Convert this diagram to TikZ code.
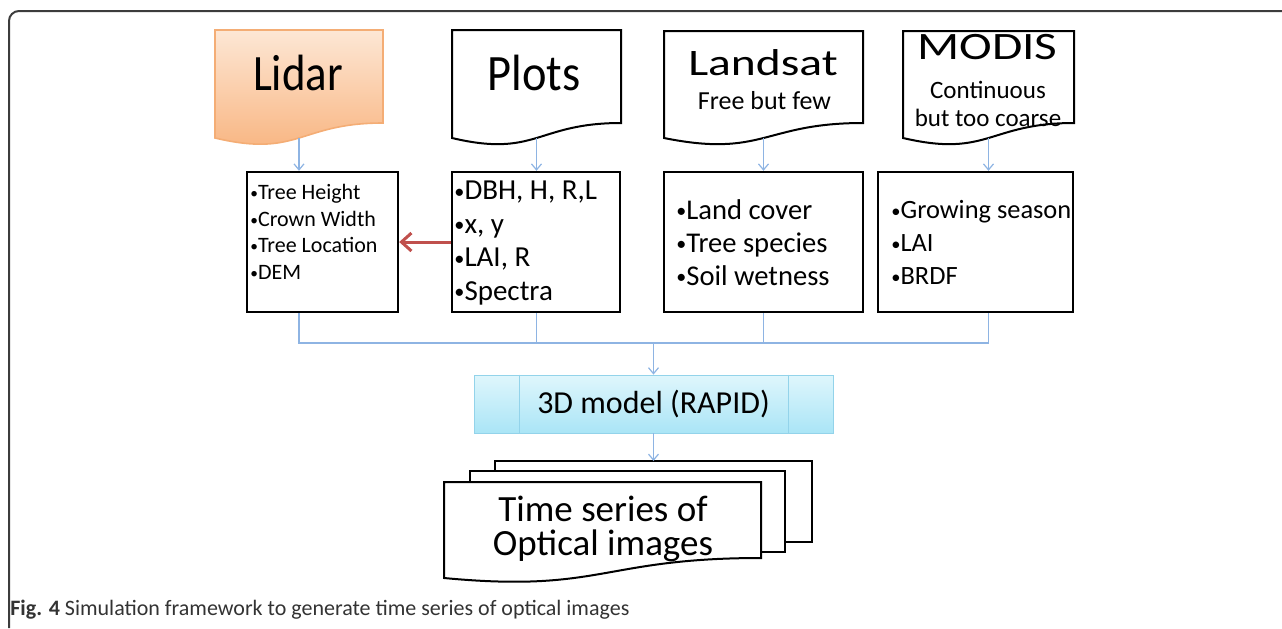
\documentclass[tikz,border=0pt]{standalone}
\usepackage{fontspec}
\setmainfont{Carlito}
\usepackage{xcolor}
\usepackage{tikz}
\usetikzlibrary{arrows.meta}

\definecolor{flowblue}{HTML}{8EB4E3}
\definecolor{lidarlight}{HTML}{FDE7D5}
\definecolor{lidardeep}{HTML}{F8B27C}
\definecolor{lidaredge}{HTML}{F4AD75}
\definecolor{modlight}{HTML}{DFF6FC}
\definecolor{moddeep}{HTML}{AAE5F6}
\definecolor{modedge}{HTML}{93D3EA}
\definecolor{linkred}{HTML}{C0504D}
\definecolor{framegray}{HTML}{3C3C3C}
\definecolor{captext}{HTML}{333333}

\newcommand{\bul}{\raisebox{0.12ex}{\scalebox{0.7}{•}}}

\begin{document}
\begin{tikzpicture}[x=0.5pt, y=-0.5pt,
    flow/.style={flowblue, line width=0.6pt},
    flowarrow/.style={flow, -{Straight Barb[length=3pt, width=5pt]}},
    doc/.style={draw=black, line width=1pt, fill=white},
    infobox/.style={draw, line width=1.2pt, minimum height=70pt, inner sep=0pt},
    boxtext/.style={align=left, inner sep=0pt, anchor=west},
    title/.style={inner sep=0pt},
    note/.style={font=\fontsize{12.5}{14}\selectfont, inner sep=0pt}]
    \useasboundingbox (0,0) rectangle (1282,628);

    % Frame
    \draw[framegray, line width=1pt, rounded corners=5pt] (9,628) -- (9,11) -- (1282,11);

    % Source documents
    \draw[draw=lidaredge, line width=0.8pt, top color=lidarlight, bottom color=lidardeep]
        (215,30) -- (383,30) -- (383,123) .. controls (299,123) and (299,158) .. (215,138) -- cycle;
    \draw[doc] (452,30) -- (621,30) -- (621,123) .. controls (536.5,123) and (536.5,158) .. (452,138) -- cycle;
    \draw[doc] (664,31) -- (863,31) -- (863,123) .. controls (763.5,123) and (763.5,158) .. (664,138) -- cycle;
    \draw[doc] (903,31) -- (1074,31) -- (1074,123) .. controls (988.5,123) and (988.5,158) .. (903,138) -- cycle;

    \node[title, font=\fontsize{25.5}{28}\selectfont] (lidar) at (298,72.5) {\scalebox{0.88}[1]{Lidar}};
    \node[title, font=\fontsize{25.5}{28}\selectfont] (plots) at (534,72.5) {\scalebox{0.91}[1]{Plots}};
    \node[title, font=\fontsize{18.7}{21}\selectfont] (landsat) at (763,62.5) {\scalebox{1.27}[1]{Landsat}};
    \node[note, font=\fontsize{13}{15}\selectfont] (landnote) at (764.5,101) {Free but few};
    \node[title, font=\fontsize{19.4}{21}\selectfont] (modis) at (987.5,47.5) {\scalebox{1.27}[1]{MODIS}};
    \node[note, align=center] (modnote) at (988,104) {Continuous\\but too coarse};

    % Bottoms of the wavy edges
    \coordinate (lidbot) at (299,138);
    \coordinate (plotbot) at (536.5,138);
    \coordinate (landbot) at (763.5,138);
    \coordinate (modbot) at (988.5,138);

    % Derived data boxes
    \node[infobox, minimum width=75.5pt] (lidbox) at (322.5,242) {};
    \node[infobox, minimum width=84pt] (plotbox) at (536,242) {};
    \node[infobox, minimum width=99.5pt] (landbox) at (763.5,242) {};
    \node[infobox, minimum width=97.5pt] (modbox) at (975.5,242) {};

    \node[boxtext, font=\fontsize{11}{13.25}\selectfont] (lidtxt) at (250,232)
        {\bul Tree Height\\\bul Crown Width\\\bul Tree Location\\\bul DEM};
    \node[boxtext, font=\fontsize{14.5}{16.75}\selectfont] (plottxt) at (454,243)
        {\bul DBH, H, R,L\\\bul x, y\\\bul LAI, R\\\bul Spectra};
    \node[boxtext, font=\fontsize{14.3}{16.5}\selectfont] (landtxt) at (676,242.5)
        {\bul Land cover\\\bul Tree species\\\bul Soil wetness};
    \node[boxtext, font=\fontsize{13.2}{16.5}\selectfont] (modtxt) at (891,242.5)
        {\bul Growing season\\\bul LAI\\\bul BRDF};

    % Arrows into the boxes
    \draw[flowarrow] (lidbot) -- (lidbot |- lidbox.north);
    \draw[flowarrow] (plotbot) -- (plotbot |- plotbox.north);
    \draw[flowarrow] (landbot) -- (landbot |- landbox.north);
    \draw[flowarrow] (modbot) -- (modbot |- modbox.north);

    % Plots feed the lidar box
    \draw[linkred, line width=1.5pt, -{Straight Barb[length=5pt, width=9pt]}] (plotbox.west) -- (lidbox.east);

    % Model
    \node[draw=modedge, top color=modlight, bottom color=moddeep, minimum width=179.5pt,
        minimum height=29pt, font=\fontsize{16}{18}\selectfont] (model) at (653.5,404) {3D model (RAPID)};
    \draw[modedge] ([xshift=23pt]model.north west) -- ([xshift=23pt]model.south west);
    \draw[modedge] ([xshift=-22.5pt]model.north east) -- ([xshift=-22.5pt]model.south east);

    % Bus into the model
    \coordinate (bus) at (653.5,343);
    \draw[flow] (lidbox.south -| lidbot) -- (lidbot |- bus) -- (modbot |- bus) -- (modbox.south -| modbot);
    \draw[flow] (plotbox.south -| plotbot) -- (plotbot |- bus);
    \draw[flow] (landbox.south -| landbot) -- (landbot |- bus);
    \draw[flowarrow] (bus) -- (model.north);

    % Stack of output images
    \draw[doc, fill=none] (495,471) -- (495,461) -- (812,461) -- (812,542) -- (785,542);
    \draw[doc, fill=none] (470,482) -- (470,471) -- (785,471) -- (785,552) -- (761,552);
    \draw[doc] (444,482) -- (761,482) -- (761,558) .. controls (602,558) and (602,593) .. (444,578) -- cycle;
    \node[align=center, font=\fontsize{18.5}{17}\selectfont] (stacktxt) at (603,529) {Time series of\\Optical images};

    \coordinate (stacktop) at (653.5,461);
    \draw[flowarrow] (model.south) -- (stacktop);

    % Caption
    \node[anchor=west, inner sep=0pt, text=captext, font=\fontsize{11}{13}\selectfont] (caption) at (10,610)
        {\textbf{Fig. 4} Simulation framework to generate time series of optical images};
\end{tikzpicture}
\end{document}
